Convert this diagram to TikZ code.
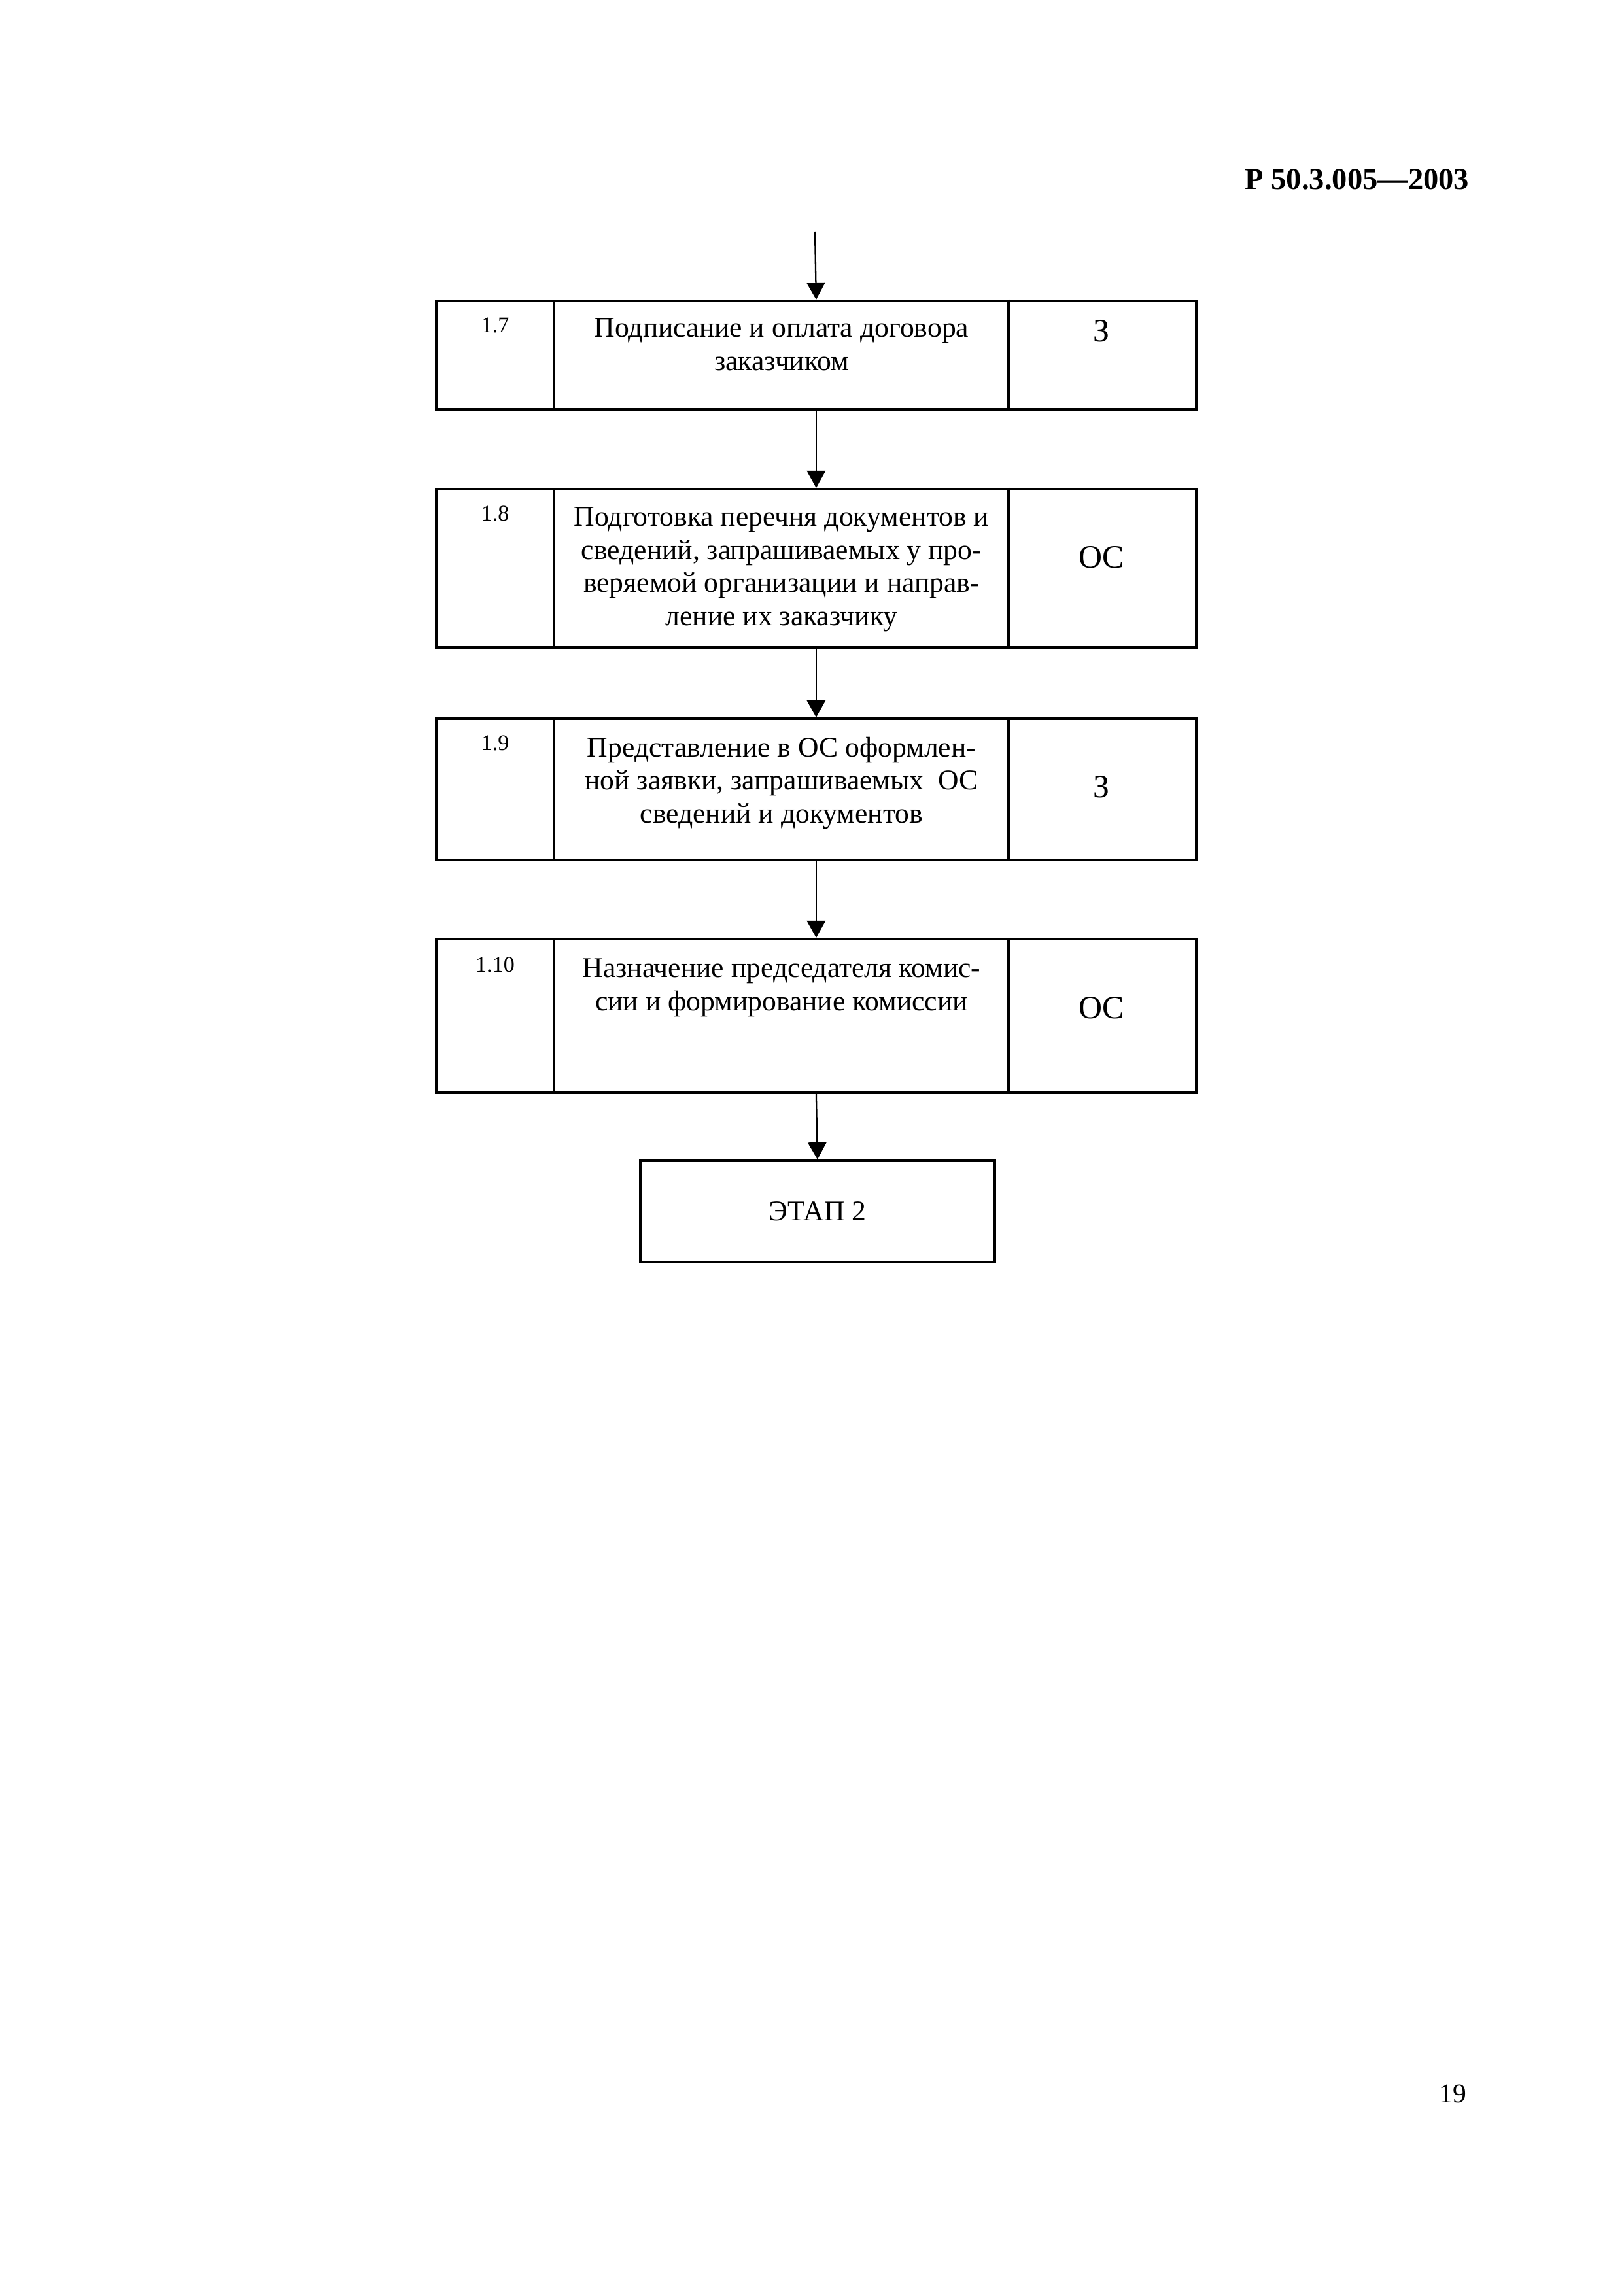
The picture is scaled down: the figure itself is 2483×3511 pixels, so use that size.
\documentclass[tikz,border=0pt]{standalone}
\usepackage{fontspec}
\setmainfont{Liberation Serif}
\usetikzlibrary{arrows.meta}
\newdimen\pxu \pxu=0.08458mm
\begin{document}
\begin{tikzpicture}[x=0.08458mm, y=-0.08458mm,
  rowbox/.style={draw, line width=0.9pt, rectangle, inner sep=0pt, anchor=north west},
  divline/.style={line width=0.8pt},
  numlbl/.style={font=\fontsize{8.2}{9}\selectfont, inner sep=0pt, anchor=north},
  midtxt/.style={font=\fontsize{10.5}{12.2}\selectfont, inner sep=0pt, anchor=north, align=center},
  rtxt/.style={font=\fontsize{12}{14}\selectfont, inner sep=0pt},
  flow/.style={line width=0.55pt, -{Triangle[length=2.2mm, width=2.4mm]}}
]
\useasboundingbox (0,0) rectangle (2483,3511);

% header and page number
\node[font=\fontsize{11.2}{13}\selectfont\bfseries, anchor=base east, inner sep=0pt] (hdr) at (2247,290) {Р 50.3.005—2003};
\node[font=\fontsize{10}{12}\selectfont, anchor=base east, inner sep=0pt] (pg) at (2243,3215) {19};

% row 1.7
\node[rowbox, minimum width=1162*\pxu, minimum height=166*\pxu] (b17) at (665,458) {};
\draw[divline] ([xshift=182*\pxu]b17.north west) -- ([xshift=182*\pxu]b17.south west);
\draw[divline] ([xshift=877*\pxu]b17.north west) -- ([xshift=877*\pxu]b17.south west);
\node[numlbl] (n17) at (757,485) {1.7};
\node[midtxt] (t17) at (1195,486) {Подписание и оплата договора\\заказчиком};
\node[rtxt] (r17) at (1684,506) {З};

% row 1.8
\node[rowbox, minimum width=1162*\pxu, minimum height=242*\pxu] (b18) at (665,746) {};
\draw[divline] ([xshift=182*\pxu]b18.north west) -- ([xshift=182*\pxu]b18.south west);
\draw[divline] ([xshift=877*\pxu]b18.north west) -- ([xshift=877*\pxu]b18.south west);
\node[numlbl] (n18) at (757,773) {1.8};
\node[midtxt] (t18) at (1195,775) {Подготовка перечня документов и\\сведений, запрашиваемых у про-\\веряемой организации и направ-\\ление их заказчику};
\node[rtxt] (r18) at (1684,852) {ОС};

% row 1.9
\node[rowbox, minimum width=1162*\pxu, minimum height=216*\pxu] (b19) at (665,1097) {};
\draw[divline] ([xshift=182*\pxu]b19.north west) -- ([xshift=182*\pxu]b19.south west);
\draw[divline] ([xshift=877*\pxu]b19.north west) -- ([xshift=877*\pxu]b19.south west);
\node[numlbl] (n19) at (757,1124) {1.9};
\node[midtxt] (t19) at (1195,1126) {Представление в ОС оформлен-\\ной заявки, запрашиваемых\ \ ОС\\сведений и документов};
\node[rtxt] (r19) at (1684,1203) {З};

% row 1.10
\node[rowbox, minimum width=1162*\pxu, minimum height=235*\pxu] (b110) at (665,1434) {};
\draw[divline] ([xshift=182*\pxu]b110.north west) -- ([xshift=182*\pxu]b110.south west);
\draw[divline] ([xshift=877*\pxu]b110.north west) -- ([xshift=877*\pxu]b110.south west);
\node[numlbl] (n110) at (757,1463) {1.10};
\node[midtxt] (t110) at (1195,1465) {Назначение председателя комис-\\сии и формирование комиссии};
\node[rtxt] (r110) at (1684,1541) {ОС};

% stage 2
\node[rowbox, minimum width=542*\pxu, minimum height=155*\pxu, font=\fontsize{10.5}{12.2}\selectfont] (e2) at (977,1773) {ЭТАП 2};

% connectors
\coordinate (start) at (1246,355);
\draw[flow] (start) -- (b17.north);
\draw[flow] (b17.south) -- (b18.north);
\draw[flow] (b18.south) -- (b19.north);
\draw[flow] (b19.south) -- (b110.north);
\draw[flow] (b110.south) -- (e2.north);
\end{tikzpicture}
\end{document}
